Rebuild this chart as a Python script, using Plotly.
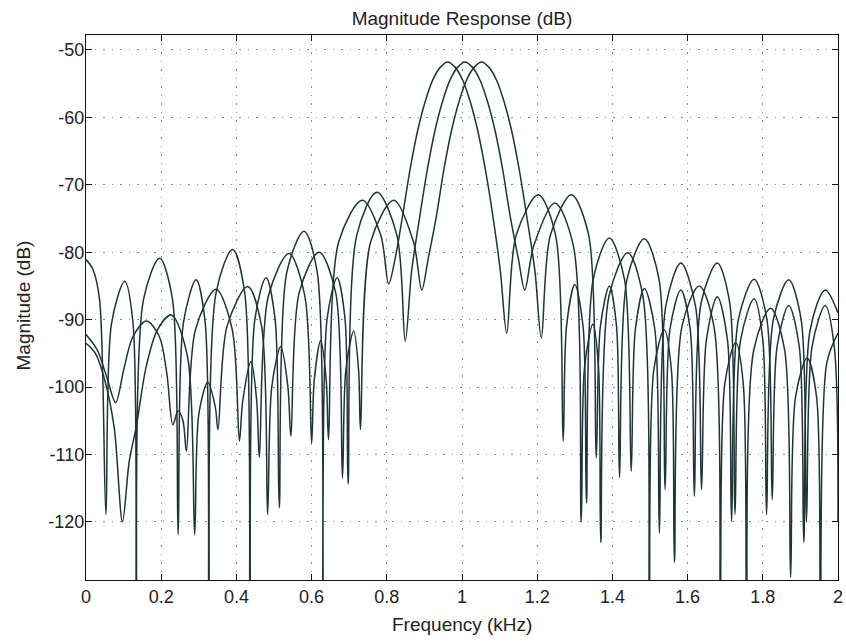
import plotly.graph_objects as go

# ---- data (frequency in kHz, magnitude in dB) ----
a_freq = [0.000, 0.030, 0.055, 0.079, 0.100, 0.125, 0.161, 0.195, 0.215, 0.231, 0.245, 0.258, 0.267, 0.291,
          0.346, 0.389, 0.408, 0.417, 0.439, 0.454, 0.461, 0.485, 0.540, 0.582, 0.600, 0.607, 0.624, 0.639,
          0.645, 0.672, 0.735, 0.784, 0.805, 0.822, 0.842, 0.862, 0.882, 0.902, 0.922, 0.942, 0.962, 0.982,
          1.002, 1.022, 1.042, 1.062, 1.082, 1.102, 1.119, 1.144, 1.203, 1.249, 1.269, 1.278, 1.300, 1.322,
          1.331, 1.349, 1.392, 1.432, 1.450, 1.461, 1.485, 1.513, 1.525, 1.542, 1.582, 1.621, 1.637, 1.650,
          1.679, 1.706, 1.717, 1.735, 1.777, 1.811, 1.825, 1.838, 1.869, 1.897, 1.909, 1.926, 1.966, 2.000]
a_db = [-92.2, -94.5, -98.5, -102.3, -97.5, -92.5, -90.2, -92.5, -98.0, -105.6, -103.5, -105.0, -109.5, -91.5,
        -85.5, -91.5, -108.0, -102.0, -96.2, -102.0, -110.4, -86.5, -80.2, -86.5, -108.3, -99.0, -93.1, -99.0,
        -107.8, -78.5, -72.3, -77.5, -84.7, -81.0, -74.6, -67.7, -62.0, -57.7, -54.5, -52.6, -51.8, -52.6,
        -54.5, -57.7, -62.0, -67.7, -74.6, -82.8, -92.0, -77.5, -71.5, -77.5, -108.0, -91.0, -84.8, -91.0,
        -117.2, -84.0, -77.9, -84.0, -112.5, -91.5, -85.4, -91.5, -121.6, -88.0, -81.6, -88.0, -115.2, -93.0,
        -86.6, -93.0, -119.9, -90.0, -84.0, -90.0, -116.7, -94.0, -87.9, -94.0, -123.0, -91.5, -85.6, -89.0]

b_freq = [0.000, 0.018, 0.036, 0.053, 0.068, 0.103, 0.125, 0.134, 0.153, 0.196, 0.230, 0.245, 0.259, 0.293,
          0.317, 0.327, 0.346, 0.390, 0.422, 0.436, 0.449, 0.479, 0.503, 0.514, 0.534, 0.580, 0.615, 0.630,
          0.641, 0.668, 0.689, 0.697, 0.720, 0.774, 0.827, 0.849, 0.866, 0.888, 0.908, 0.928, 0.948, 0.968,
          0.988, 1.008, 1.028, 1.048, 1.068, 1.088, 1.108, 1.128, 1.150, 1.167, 1.191, 1.247, 1.296, 1.317,
          1.326, 1.348, 1.363, 1.369, 1.391, 1.441, 1.481, 1.498, 1.510, 1.538, 1.557, 1.565, 1.585, 1.631,
          1.670, 1.687, 1.699, 1.728, 1.748, 1.757, 1.776, 1.821, 1.858, 1.874, 1.887, 1.918, 1.943, 1.953,
          1.970, 2.000]
b_db = [-81.1, -82.5, -87.0, -118.9, -90.5, -84.3, -90.5, -140.0, -87.0, -80.9, -87.0, -121.9, -90.5, -84.1,
        -90.5, -140.0, -86.0, -79.6, -86.0, -140.0, -90.0, -83.8, -90.0, -117.9, -83.0, -76.9, -83.0, -140.0,
        -90.0, -83.8, -90.0, -114.4, -77.5, -71.1, -77.5, -93.2, -82.8, -74.6, -67.7, -62.0, -57.7, -54.5,
        -52.6, -51.8, -52.6, -54.5, -57.7, -62.0, -67.7, -74.6, -81.0, -85.6, -79.0, -72.7, -79.0, -120.0,
        -97.0, -90.7, -97.0, -123.0, -86.5, -80.1, -86.5, -140.0, -97.5, -91.5, -97.5, -126.0, -91.0, -85.0,
        -91.0, -140.0, -99.5, -93.4, -99.5, -140.0, -94.5, -88.3, -94.5, -128.2, -101.5, -95.7, -101.5, -140.0,
        -96.5, -92.0]

c_freq = [0.000, 0.025, 0.050, 0.075, 0.097, 0.115, 0.134, 0.160, 0.190, 0.227, 0.270, 0.289, 0.300, 0.324,
          0.344, 0.351, 0.375, 0.430, 0.467, 0.483, 0.494, 0.518, 0.537, 0.545, 0.567, 0.620, 0.664, 0.682,
          0.691, 0.712, 0.725, 0.730, 0.757, 0.819, 0.871, 0.893, 0.910, 0.932, 0.952, 0.972, 0.992, 1.012,
          1.032, 1.052, 1.072, 1.092, 1.112, 1.132, 1.152, 1.172, 1.194, 1.211, 1.235, 1.291, 1.337, 1.357,
          1.368, 1.392, 1.411, 1.419, 1.439, 1.485, 1.524, 1.540, 1.553, 1.582, 1.607, 1.618, 1.636, 1.679,
          1.712, 1.726, 1.741, 1.777, 1.800, 1.810, 1.828, 1.869, 1.902, 1.916, 1.931, 1.966, 1.990, 2.000]
c_db = [-93.5, -95.0, -99.0, -106.0, -120.0, -111.0, -105.8, -97.0, -91.5, -89.3, -95.5, -121.9, -104.0, -99.3,
        -103.0, -106.3, -91.0, -85.1, -91.0, -118.9, -100.0, -94.0, -100.0, -107.3, -86.0, -80.0, -86.0, -113.5,
        -97.5, -91.7, -97.5, -106.3, -78.5, -72.3, -78.5, -85.6, -81.0, -74.6, -67.7, -62.0, -57.7, -54.5,
        -52.6, -51.8, -52.6, -54.5, -57.7, -62.0, -67.7, -74.6, -82.8, -92.7, -77.5, -71.5, -77.5, -110.5,
        -91.0, -85.0, -91.0, -113.4, -84.0, -78.0, -84.0, -115.2, -91.5, -85.6, -91.5, -116.2, -87.5, -81.6,
        -87.5, -118.9, -93.0, -86.9, -93.0, -118.9, -90.0, -84.1, -90.0, -120.0, -94.0, -87.9, -94.0, -120.0]

x_ticks = [0, 0.2, 0.4, 0.6, 0.8, 1.0, 1.2, 1.4, 1.6, 1.8, 2.0]
x_tick_text = ["0", "0.2", "0.4", "0.6", "0.8", "1", "1.2", "1.4", "1.6", "1.8", "2"]
y_ticks = [-120, -110, -100, -90, -80, -70, -60, -50]
y_tick_text = ["-120", "-110", "-100", "-90", "-80", "-70", "-60", "-50"]

line_color = "#1f3535"
font_family = "Liberation Sans, Arial, Helvetica, sans-serif"

fig = go.Figure()
for fx, fy in [(a_freq, a_db), (b_freq, b_db), (c_freq, c_db)]:
    fig.add_trace(go.Scatter(x=fx, y=fy, mode="lines",
                             line=dict(color=line_color, width=1.5, shape="spline", smoothing=0.9),
                             hoverinfo="skip"))

axis_common = dict(
    showline=True, linecolor="#111", linewidth=1.2, mirror="ticks",
    ticks="inside", ticklen=6, tickcolor="#111", tickwidth=1,
    showgrid=True, gridcolor="#8c8c8c", gridwidth=1, griddash="1.5px,7px",
    zeroline=False, tickfont=dict(family=font_family, size=18, color="#222"),
    ticklabeloverflow="allow", automargin=False,
)

fig.update_xaxes(range=[0, 2], tickvals=x_ticks, ticktext=x_tick_text, **axis_common)
fig.update_yaxes(range=[-128.6, -47.8], tickvals=y_ticks, ticktext=y_tick_text,
                 ticklabelstandoff=-3, **axis_common)

plot_w = 846 - 86 - 8
fig.update_layout(
    width=846, height=643,
    margin=dict(l=86, r=8, t=35, b=63),
    plot_bgcolor="white", paper_bgcolor="white",
    showlegend=False,
    font=dict(family=font_family, size=18, color="#222"),
    title=dict(text="Magnitude Response (dB)", x=0.5, xref="paper", xanchor="center",
               y=1 - 18 / 643, yref="container", yanchor="middle",
               font=dict(family=font_family, size=19, color="#222")),
    annotations=[
        dict(text="Frequency (kHz)", xref="paper", yref="paper", x=0.5, y=-44 / 545,
             xanchor="center", yanchor="middle", showarrow=False,
             font=dict(family=font_family, size=19, color="#222")),
        dict(text="Magnitude (dB)", xref="paper", yref="paper", x=-63.5 / plot_w, y=274 / 545,
             xanchor="center", yanchor="middle", textangle=-90, showarrow=False,
             font=dict(family=font_family, size=19, color="#222")),
    ],
)

fig.write_html("out.html")
